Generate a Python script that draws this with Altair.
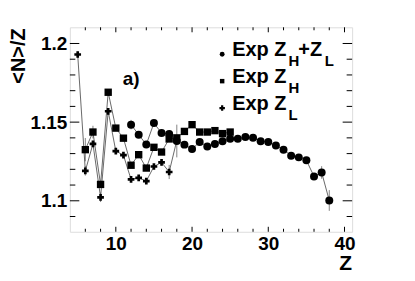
import altair as alt
import pandas as pd

# ---- data ----
Z_HL = list(range(12, 39))
V_HL = [1.1484, 1.1420, 1.1358, 1.1494, 1.1431, 1.1425, 1.1380, 1.1357, 1.1329,
        1.1374, 1.1345, 1.1361, 1.1378, 1.1395, 1.1395, 1.1406, 1.1400, 1.1378,
        1.1374, 1.1352, 1.1325, 1.1287, 1.1276, 1.1257, 1.1155, 1.1180, 1.1002]
E_HL = [0.003, 0.0015, 0.0015, 0.0015, 0.0015, 0.0015, 0.0104, 0.001, 0.001,
        0.001, 0.001, 0.001, 0.001, 0.001, 0.001, 0.001, 0.001, 0.001,
        0.001, 0.001, 0.001, 0.0015, 0.0015, 0.0015, 0.002, 0.004, 0.0066]

Z_H = list(range(6, 26))
V_H = [1.1325, 1.1437, 1.1104, 1.1690, 1.1462, 1.1398, 1.1226, 1.1293, 1.1208,
       1.1340, 1.1310, 1.1393, 1.1400, 1.1441, 1.1484, 1.1437, 1.1437, 1.1446,
       1.1427, 1.1437]
E_H = [0.0074, 0.004, 0.002, 0.002, 0.0015, 0.0015, 0.0015, 0.0015, 0.0015,
       0.0015, 0.0015, 0.0015, 0.0015, 0.001, 0.001, 0.001, 0.001, 0.001,
       0.001, 0.001]

Z_L = list(range(5, 19))
V_L = [1.1930, 1.1190, 1.1362, 1.1022, 1.1569, 1.1316, 1.1290, 1.1136, 1.1146,
       1.1125, 1.1218, 1.1244, 1.1183, 1.1384]
E_L = [0.002, 0.003, 0.002, 0.003, 0.002, 0.0015, 0.0015, 0.0015, 0.0015,
       0.0015, 0.0015, 0.002, 0.0045, 0.002]

SERIES = ["HL", "H", "L"]
SHAPES = ["circle", "square", "cross"]
SIZES = [64, 45, 85]
LEG_SIZES = [24, 20, 30]

X_MAJOR = [10, 20, 30, 40]
X_MINOR = [6, 8, 12, 14, 16, 18, 22, 24, 26, 28, 32, 34, 36, 38]
Y_MAJOR = [1.1, 1.15, 1.2]
Y_MINOR = [1.09, 1.11, 1.12, 1.13, 1.14, 1.16, 1.17, 1.18, 1.19]

W, H = 283, 205
FONT = "Liberation Sans"

rows = []
for s, zs, vs, es in [("HL", Z_HL, V_HL, E_HL), ("H", Z_H, V_H, E_H), ("L", Z_L, V_L, E_L)]:
    for z, v, e in zip(zs, vs, es):
        rows.append({"series": s, "Z": z, "v": v, "lo": v - e, "hi": v + e})
df = pd.DataFrame(rows)

xs = alt.Scale(domain=[3.97, 41.0], nice=False, zero=False)
ys = alt.Scale(domain=[1.0803, 1.2103], nice=False, zero=False)

AX_X = alt.Axis(values=X_MAJOR, format="d", ticks=False, domain=False, grid=False,
                labelFontSize=19, labelFont=FONT, labelFontWeight="bold",
                labelColor="black", labelPadding=3, title=None)
AX_Y = alt.Axis(values=Y_MAJOR, format="~g", ticks=False, domain=False, grid=False,
                labelFontSize=19, labelFont=FONT, labelFontWeight="bold",
                labelColor="black", labelPadding=3, title=None)

base = alt.Chart(df)

err = base.mark_rule(color="#666", strokeWidth=0.8).encode(
    x=alt.X("Z:Q", scale=xs, axis=AX_X),
    y=alt.Y("lo:Q", scale=ys, axis=AX_Y),
    y2="hi:Q",
)

lines = base.mark_line(color="#444", strokeWidth=0.8).encode(
    x=alt.X("Z:Q", scale=xs, axis=AX_X),
    y=alt.Y("v:Q", scale=ys, axis=AX_Y),
    detail="series:N",
    order="Z:Q",
)

pts = base.mark_point(filled=True, opacity=1, color="black").encode(
    x=alt.X("Z:Q", scale=xs, axis=AX_X),
    y=alt.Y("v:Q", scale=ys, axis=AX_Y),
    shape=alt.Shape("series:N", scale=alt.Scale(domain=SERIES, range=SHAPES), legend=None),
    size=alt.Size("series:N", scale=alt.Scale(domain=SERIES, range=SIZES), legend=None),
)

def tick_layers(vals, length):
    d = pd.DataFrame({"t": vals})
    c = alt.Chart(d)
    return [
        c.mark_rule(color="black", strokeWidth=1).encode(
            x=alt.X("t:Q", scale=xs, axis=AX_X), y=alt.value(H), y2=alt.value(H - length)),
        c.mark_rule(color="black", strokeWidth=1).encode(
            x=alt.X("t:Q", scale=xs, axis=AX_X), y=alt.value(0), y2=alt.value(length)),
    ]

def ytick_layers(vals, length):
    d = pd.DataFrame({"t": vals})
    c = alt.Chart(d)
    return [
        c.mark_rule(color="black", strokeWidth=1).encode(
            y=alt.Y("t:Q", scale=ys, axis=AX_Y), x=alt.value(0), x2=alt.value(length)),
        c.mark_rule(color="black", strokeWidth=1).encode(
            y=alt.Y("t:Q", scale=ys, axis=AX_Y), x=alt.value(W), x2=alt.value(W - length)),
    ]

ticks = (tick_layers(X_MAJOR, 5) + tick_layers(X_MINOR, 3)
         + ytick_layers(Y_MAJOR, 9.5) + ytick_layers(Y_MINOR, 5.5))

def text_at(txt, x, y, size, align="left", baseline="alphabetic", angle=0):
    return alt.Chart(pd.DataFrame({"t": [txt]})).mark_text(
        font=FONT, fontWeight="bold", fontSize=size, align=align,
        baseline=baseline, angle=angle, color="black").encode(
        text="t:N", x=alt.value(x), y=alt.value(y))

ytitle = text_at("<N>/Z", -51, 1, 20, align="right", baseline="middle", angle=270)
xtitle = text_at("Z", W, 243, 21, align="right")
alabel = text_at("a)", 53, 58, 19)

LEG_Y = [28.5, 55.5, 82.5]
leg_marks = []
for s, shp, sz, yy in zip(SERIES, SHAPES, LEG_SIZES, [27, 54, 81]):
    leg_marks.append(alt.Chart(pd.DataFrame({"series": [s]})).mark_point(
        filled=True, opacity=1, color="black", shape=shp, size=sz).encode(
        x=alt.value(152.7), y=alt.value(yy)))

leg_text = [
    text_at("Exp Z", 162.7, LEG_Y[0], 20), text_at("H", 219.3, LEG_Y[0] + 10, 15),
    text_at("+Z", 229, LEG_Y[0], 20), text_at("L", 255.5, LEG_Y[0] + 10, 15),
    text_at("Exp Z", 162.7, LEG_Y[1], 20), text_at("H", 219.3, LEG_Y[1] + 10, 15),
    text_at("Exp Z", 162.7, LEG_Y[2], 20), text_at("L", 219.3, LEG_Y[2] + 10, 15),
]

chart = alt.layer(
    err, lines, pts, *ticks, ytitle, xtitle, alabel, *leg_marks, *leg_text
).properties(
    width=W, height=H,
    autosize=alt.AutoSizeParams(type="none"),
    padding={"left": 62, "top": 19, "right": 55, "bottom": 41},
).configure_view(stroke="black", strokeWidth=1).configure(background="white")

chart.save("out.html", embed_options={"renderer": "svg", "actions": False})
